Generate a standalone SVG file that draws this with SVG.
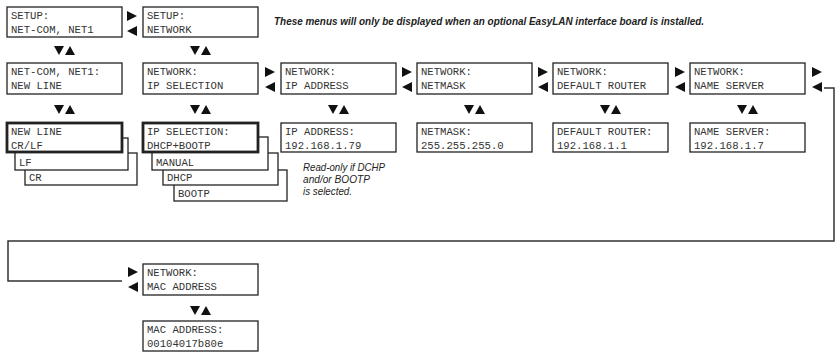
<svg xmlns="http://www.w3.org/2000/svg" xmlns:xlink="http://www.w3.org/1999/xlink" width="836" height="357" viewBox="0 0 836 357">
<style>
.box{fill:#fff;stroke:#222;stroke-width:1.3}
.bold{fill:#fff;stroke:#222;stroke-width:2.8}
.t{font-family:"Liberation Mono","DejaVu Sans Mono",monospace;font-size:10.6px;fill:#333}
.note{font-family:"Liberation Sans",Arial,sans-serif;font-style:italic;fill:#222}
.tri{fill:#111}
.line{fill:none;stroke:#333;stroke-width:1.5}
</style>
<defs>
<path id="ar" class="tri" d="M0,0 L10,5 L0,10 Z"/>
<path id="al" class="tri" d="M10,0 L0,5 L10,10 Z"/>
<path id="ud" class="tri" d="M0,0 L10,0 L5,9 Z M11,9 L21,9 L16,0 Z"/>
</defs>
<rect width="836" height="357" fill="#fff"/>
<text class="note" x="274" y="25" font-size="11.5" font-weight="bold" textLength="430" lengthAdjust="spacingAndGlyphs">These menus will only be displayed when an optional EasyLAN interface board is installed.</text>

<g id="setup-netcom"><rect class="box" x="7" y="7" width="115" height="30"/><text class="t" x="11" y="19">SETUP:</text><text class="t" x="11" y="33">NET-COM, NET1</text></g>
<g id="setup-network"><rect class="box" x="143" y="7" width="115" height="30"/><text class="t" x="147" y="19">SETUP:</text><text class="t" x="147" y="33">NETWORK</text></g>

<g id="netcom-newline"><rect class="box" x="7" y="63" width="115" height="31"/><text class="t" x="11" y="75">NET-COM, NET1:</text><text class="t" x="11" y="89">NEW LINE</text></g>
<g id="network-ipsel"><rect class="box" x="143" y="63" width="115" height="31"/><text class="t" x="147" y="75">NETWORK:</text><text class="t" x="147" y="89">IP SELECTION</text></g>
<g id="network-ipaddr"><rect class="box" x="281" y="63" width="115" height="31"/><text class="t" x="285" y="75">NETWORK:</text><text class="t" x="285" y="89">IP ADDRESS</text></g>
<g id="network-netmask"><rect class="box" x="417" y="63" width="115" height="31"/><text class="t" x="421" y="75">NETWORK:</text><text class="t" x="421" y="89">NETMASK</text></g>
<g id="network-router"><rect class="box" x="553" y="63" width="115" height="31"/><text class="t" x="557" y="75">NETWORK:</text><text class="t" x="557" y="89">DEFAULT ROUTER</text></g>
<g id="network-nameserver"><rect class="box" x="690" y="63" width="115" height="31"/><text class="t" x="694" y="75">NETWORK:</text><text class="t" x="694" y="89">NAME SERVER</text></g>

<g id="newline-stack">
<rect class="box" x="25" y="153" width="112" height="32"/><text class="t" x="29" y="181">CR</text>
<rect class="box" x="15" y="138" width="113" height="32"/><text class="t" x="19" y="166">LF</text>
<rect class="bold" x="7" y="123" width="115" height="29"/><text class="t" x="11" y="135">NEW LINE</text><text class="t" x="11" y="149">CR/LF</text>
</g>
<g id="ipsel-stack">
<rect class="box" x="174" y="170" width="113" height="31"/><text class="t" x="178" y="197">BOOTP</text>
<rect class="box" x="163" y="153" width="115" height="32"/><text class="t" x="167" y="181">DHCP</text>
<rect class="box" x="152" y="137" width="116" height="33"/><text class="t" x="156" y="166">MANUAL</text>
<rect class="bold" x="143" y="123" width="115" height="29"/><text class="t" x="147" y="135">IP SELECTION:</text><text class="t" x="147" y="149">DHCP+BOOTP</text>
</g>
<g id="ipaddr-value"><rect class="box" x="281" y="123" width="115" height="29"/><text class="t" x="285" y="135">IP ADDRESS:</text><text class="t" x="285" y="149">192.168.1.79</text>
<text class="note" font-size="11" x="303" y="171" textLength="82" lengthAdjust="spacingAndGlyphs">Read-only if DCHP</text>
<text class="note" font-size="11" x="303" y="183" textLength="67" lengthAdjust="spacingAndGlyphs">and/or BOOTP</text>
<text class="note" font-size="11" x="303" y="195" textLength="49" lengthAdjust="spacingAndGlyphs">is selected.</text>
</g>
<g id="netmask-value"><rect class="box" x="417" y="123" width="115" height="29"/><text class="t" x="421" y="135">NETMASK:</text><text class="t" x="421" y="149">255.255.255.0</text></g>
<g id="router-value"><rect class="box" x="553" y="123" width="115" height="29"/><text class="t" x="557" y="135">DEFAULT ROUTER:</text><text class="t" x="557" y="149">192.168.1.1</text></g>
<g id="nameserver-value"><rect class="box" x="690" y="123" width="115" height="29"/><text class="t" x="694" y="135">NAME SERVER:</text><text class="t" x="694" y="149">192.168.1.7</text></g>

<g id="network-mac"><rect class="box" x="143" y="264" width="115" height="31"/><text class="t" x="147" y="276">NETWORK:</text><text class="t" x="147" y="290">MAC ADDRESS</text></g>
<g id="mac-value"><rect class="box" x="143" y="321" width="115" height="30"/><text class="t" x="147" y="333">MAC ADDRESS:</text><text class="t" x="147" y="347">00104017b80e</text></g>

<g id="connectors">
<polyline class="line" points="824,88 834,88 834,241 8,241 8,281 122,281"/>
<use xlink:href="#ar" x="127" y="11"/><use xlink:href="#al" x="127" y="26"/>
<use xlink:href="#ar" x="265" y="67"/><use xlink:href="#al" x="265" y="82"/>
<use xlink:href="#ar" x="402" y="67"/><use xlink:href="#al" x="402" y="82"/>
<use xlink:href="#ar" x="538" y="67"/><use xlink:href="#al" x="538" y="82"/>
<use xlink:href="#ar" x="675" y="67"/><use xlink:href="#al" x="675" y="82"/>
<use xlink:href="#ar" x="812" y="67"/><use xlink:href="#al" x="812" y="82"/>
<use xlink:href="#ar" x="128" y="267"/><use xlink:href="#al" x="128" y="282"/>
<use xlink:href="#ud" x="54" y="46"/><use xlink:href="#ud" x="190" y="46"/>
<use xlink:href="#ud" x="54" y="105"/><use xlink:href="#ud" x="190" y="105"/><use xlink:href="#ud" x="328" y="105"/><use xlink:href="#ud" x="464" y="105"/><use xlink:href="#ud" x="600" y="105"/><use xlink:href="#ud" x="737" y="105"/>
<use xlink:href="#ud" x="190" y="306"/>
</g>
</svg>
